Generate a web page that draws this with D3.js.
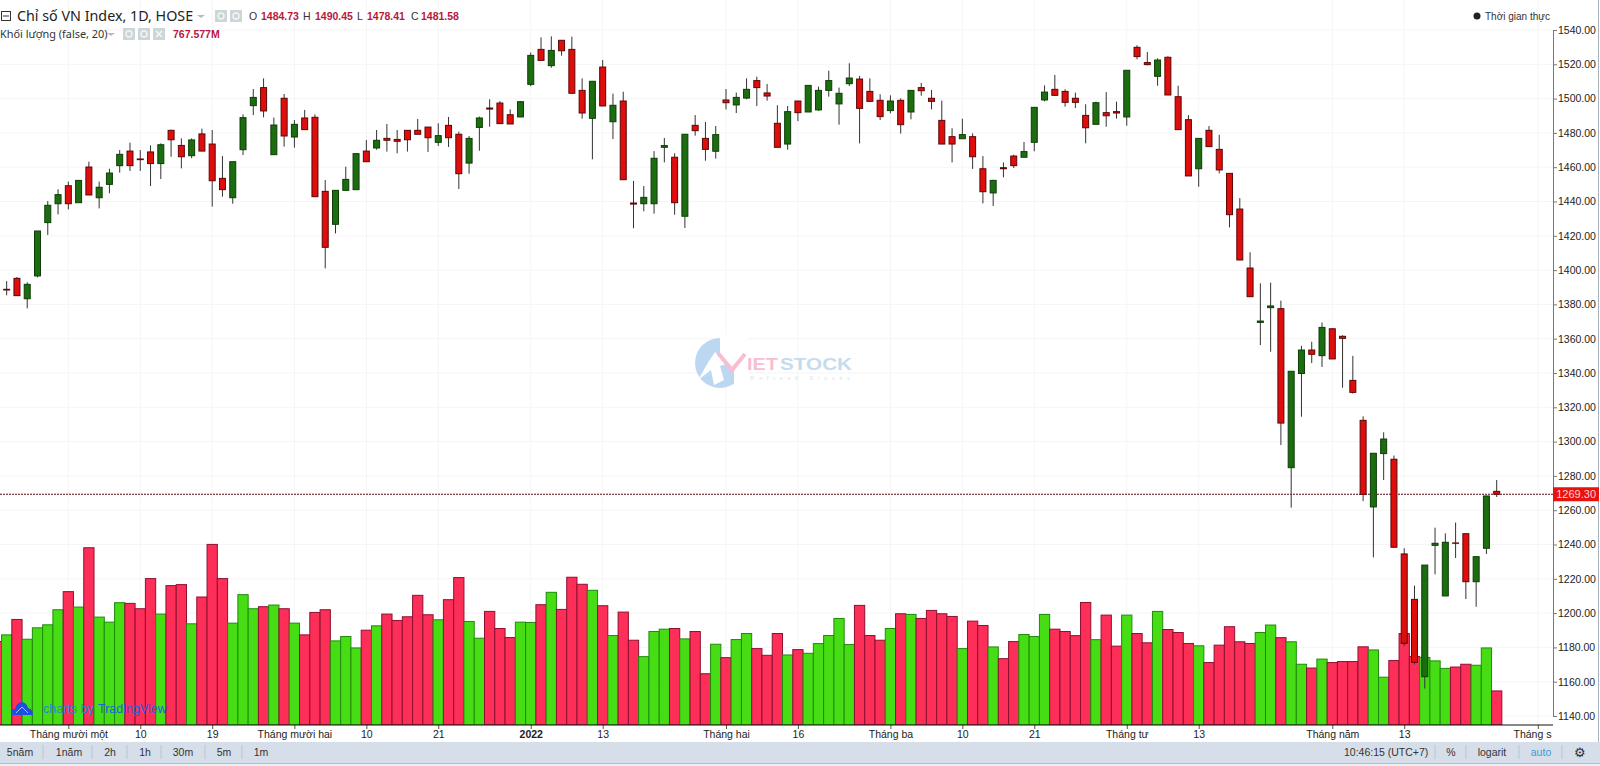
<!DOCTYPE html>
<html>
<head>
<meta charset="utf-8">
<script src="https://cdn.jsdelivr.net/npm/d3@7"></script>
<style>
  html, body { margin: 0; padding: 0; background: #fff; overflow: hidden; }
  text { font-family: "Liberation Sans", Arial, sans-serif; }
  .head { font-family: "Noto Sans", sans-serif; }
</style>
</head>
<body>
<svg id="chart" width="1600" height="766"></svg>
<script>
// candles, first entry sits just left of the visible area
const opens = [1392,1388.8,1395.2,1383.3,1396.6,1427.7,1438.7,1449.2,1439.3,1460.1,1442.2,1450,1460.9,1469.4,1464.8,1468.9,1462.1,1481.5,1472.7,1466.7,1479.4,1473.5,1453.5,1442.2,1470.2,1495.9,1506.4,1467.3,1500.2,1477.6,1488.7,1489.1,1445.9,1426.7,1446.5,1446.9,1469.4,1471.2,1476.8,1476.2,1481.5,1481.5,1483.4,1474.5,1484.4,1479.2,1462.4,1483.2,1494.5,1497.4,1490.6,1489.3,1508.3,1528.7,1519.2,1534,1528.7,1504.8,1488.5,1518.4,1486.5,1498.6,1439.1,1438.7,1438.7,1471.6,1465.8,1431.4,1484.4,1476.8,1469.3,1499.2,1496.3,1500.3,1510.5,1503.3,1485.6,1473.5,1498.6,1492.2,1493.4,1504.8,1496.9,1508.7,1511.4,1504.2,1499,1493,1499,1492.2,1506.4,1500.2,1487.3,1477.8,1476.6,1477.8,1459.1,1445,1459.7,1466.5,1465.8,1474.5,1499.2,1505.4,1504.2,1500.2,1490.2,1485,1491.8,1492.4,1489.3,1529.9,1521,1513,1524.1,1501.1,1487.7,1459.1,1481.5,1470.4,1456.4,1435.6,1401.2,1369.5,1378.1,1377.5,1284.8,1339.7,1353.4,1350.1,1365.8,1361.4,1335.7,1312.4,1261.9,1293,1289.7,1234.5,1208,1162.9,1239.5,1210,1240.9,1246.3,1218.3,1237.8,1271];
const highs = [1395,1393.6,1396,1392.9,1422.8,1440.3,1447.1,1451.6,1452.3,1463.2,1451.6,1459.1,1470,1474.3,1470,1472.7,1473.9,1481.9,1476.8,1476.8,1482.5,1481.7,1466.5,1463.2,1490.8,1505.6,1511.8,1488.9,1502.7,1487.5,1493.4,1490.8,1452.5,1446.5,1460.3,1467.9,1475.9,1481.7,1485.2,1481.7,1481.5,1488.1,1483.4,1485.6,1489.3,1480.7,1478.2,1489.5,1499.6,1498.6,1493.7,1498.6,1526.8,1535.7,1536.3,1534,1536.1,1511.8,1510.1,1522.5,1502.9,1504,1452,1449,1469.4,1477,1468.1,1479.2,1490.4,1486.4,1484,1505.6,1503.5,1511.8,1512.8,1508.5,1496.1,1495.7,1498.6,1507.7,1507,1516.3,1506.4,1520.6,1513.2,1511.8,1502.5,1501.9,1500.2,1504.8,1509.1,1505,1498.8,1482.7,1488.3,1479.7,1466.5,1452.7,1462.8,1467.3,1474.7,1494.9,1507.7,1513.8,1505.4,1503.5,1496.7,1498.2,1503.8,1498.2,1516.5,1531.1,1527.2,1523.5,1524.6,1507.5,1490.4,1476.8,1484,1478.9,1456.4,1442,1410.4,1392.3,1392.7,1382.2,1341,1355.8,1358.2,1369.4,1365.8,1362,1350,1314.7,1293.2,1305.4,1291.9,1237.8,1216,1228,1249.8,1246.5,1252.8,1246.3,1232.9,1268.3,1277.6];
const lows = [1385,1385.3,1385.1,1377.7,1395.8,1420.5,1432.5,1435.4,1439.3,1443.8,1436,1444.8,1456.8,1457.8,1457.8,1449,1453.1,1466.1,1459.3,1465.2,1469.4,1437,1442.8,1438.7,1467.1,1490.4,1489.1,1467.3,1472,1471.4,1481.9,1442.8,1401,1421.4,1446.5,1446.9,1463.2,1470.2,1469.1,1468.1,1469.1,1479.2,1468.9,1472.4,1471.8,1447.3,1456.2,1469.6,1483.6,1485.4,1485.2,1489.3,1507.2,1522.3,1518,1525,1503.1,1488.3,1464.6,1495.7,1476.4,1452.7,1424.4,1434.3,1432.9,1462.8,1432.3,1424.5,1478.4,1463.8,1465,1493.7,1491.6,1499.6,1495.7,1498.8,1471.6,1470.2,1486.9,1492.2,1492.8,1501.1,1484.8,1507.3,1473.9,1498.4,1487.5,1491.4,1479.6,1487.9,1501.7,1493.7,1473.5,1462.8,1476.6,1459,1438.9,1437.4,1454.1,1459.5,1465.8,1469.3,1498.4,1501.5,1495.3,1494.5,1473.9,1485,1483.6,1488.3,1484.2,1522.9,1519.4,1507.5,1502.1,1481.9,1454.9,1448.6,1472,1456.4,1424.9,1405.9,1384.5,1356.3,1352.4,1298,1261.5,1314.5,1345.8,1343.5,1348.2,1331.4,1328,1265.3,1232.5,1277.6,1238,1180.8,1170,1156,1222.6,1210,1232.1,1208.2,1203.7,1234.5,1267.7];
const closes = [1388,1388.4,1385.1,1391.7,1422.8,1437.8,1444,1438.7,1452.3,1443.8,1448.3,1456.6,1467.5,1460.9,1464.4,1462.1,1473.1,1476,1466.1,1475.9,1469.4,1452.1,1446.9,1463.2,1488.9,1500.7,1492.8,1484.6,1478.2,1485,1481.9,1442.8,1413.3,1446.5,1452.9,1467.9,1463.2,1475.7,1475.7,1475.1,1476,1479.2,1477.2,1478.4,1477.2,1456.2,1476.8,1488.7,1493.9,1485.4,1485.2,1498.2,1525.2,1522.3,1528.1,1527.9,1503.1,1491.6,1510.1,1495.7,1496.1,1452.7,1438.5,1442.4,1465.2,1472.6,1439.3,1479.2,1481.3,1470.4,1479,1497.6,1500.7,1505.4,1506.4,1501.5,1471.6,1492.4,1491.8,1507.7,1504.8,1510.5,1503.1,1512,1494.3,1498.4,1489.5,1498.6,1484.8,1504.8,1504.6,1498.4,1473.5,1473.5,1479,1466.1,1445.7,1452.3,1459.1,1460.9,1469.1,1494.9,1503.8,1501.9,1497.8,1497.8,1483,1497.6,1490,1491.6,1516.5,1524.5,1519.8,1522.5,1502.1,1481.9,1454.9,1476.8,1472,1458.4,1432.3,1405.9,1384.5,1370.3,1379.1,1310.8,1341,1353.4,1350.9,1366.6,1348.2,1360.2,1328.7,1269.2,1293.2,1301.5,1238.4,1182.4,1171.3,1228,1240.7,1241.3,1240.7,1218.3,1232.9,1268.3,1269.3];

// volume in millions
const volumes = [747,807,945,768,870,897,1032,1194,1056,1587,966,921,1095,1089,1041,1311,993,1248,1257,906,1146,1617,1311,912,1167,1041,1059,1074,1041,912,807,1008,1032,753,792,690,849,888,993,936,969,1161,987,942,1122,1320,927,777,1017,864,783,921,918,1077,1188,1035,1323,1260,1206,1068,801,1011,759,612,837,858,864,771,837,459,723,603,765,819,684,624,819,627,675,642,729,801,954,720,1071,801,759,864,996,990,954,1026,996,972,684,930,891,699,594,747,810,792,990,858,837,800,1097,764,984,706,984,819,736,1017,855,828,730,709,559,715,880,745,730,828,895,782,745,544,510,590,559,568,568,700,672,428,577,819,614,605,574,507,519,544,535,690,305];
const volumeDir = "rgrggggrgrgggrrrgrrgrrrgggrgrgrrrgggrgrrrrrgrrggrrrggrgrrrgrgrrgggrgrrgrggrrrgrgggggrrrgrgrrrrgrrgrrgggrrrrgrrgrrgrrrgrrrrrggrggrgrrrrggrrrgggrrggr".split("");

const priceTicks = [1140,1160,1180,1200,1220,1240,1260,1280,1300,1320,1340,1360,1380,1400,1420,1440,1460,1480,1500,1520,1540];
const lastPrice = 1269.3;

// bar index of every label on the time axis
const timeTicks = [6,13,20,28,35,42,51,58,70,77,86,93,100,109,116,129,136,149];
const timeLabels = ["Tháng mười một","10","19","Tháng mười hai","10","21","2022","13","Tháng hai","16","Tháng ba","10","21","Tháng tư","13","Tháng năm","13","Tháng sáu"];

const rangeButtons = [["5năm",20],["1năm",69],["2h",110],["1h",145],["30m",183],["5m",224],["1m",261]];
const rangeSeps = [43,92,127,161,205,242];

const svg = d3.select("#chart");
const plotRight = 1553;
const plotBottom = 725;

const x = d3.scaleLinear().domain([0, 145]).range([6.67, 1496.7]);
const y = d3.scaleLinear().domain([1140, 1540]).range([716, 30]);
const vy = d3.scaleLinear().domain([0, 1617]).range([plotBottom, 544.4]);
const step = x(1) - x(0);

svg.append("defs").append("clipPath").attr("id", "plot")
  .append("rect").attr("width", plotRight).attr("height", plotBottom);

const plot = svg.append("g").attr("clip-path", "url(#plot)");

// grid
plot.selectAll(".hgrid").data(priceTicks).join("line")
  .attr("x1", 0).attr("x2", plotRight)
  .attr("y1", (d) => y(d)).attr("y2", (d) => y(d))
  .attr("stroke", "#f5f5f5");
plot.selectAll(".vgrid").data(timeTicks).join("line")
  .attr("x1", (d) => x(d)).attr("x2", (d) => x(d))
  .attr("y1", 0).attr("y2", plotBottom)
  .attr("stroke", "#f5f5f5");

// watermark
const mark = plot.append("g").attr("transform", "translate(720,363)");
mark.append("circle").attr("r", 25).attr("fill", "#bcd7f2");
mark.append("path").attr("d", "M-22,17 L-11,-2 L-5,-11 L6,1 L0,3 L4,17 L-6,22 L-9,7 Z").attr("fill", "#fff");
mark.append("path").attr("d", "M0,-28 L12,-28 L28,-28 L28,28 L14,28 L14,8 L0,-10 Z").attr("fill", "#fff");
mark.append("path").attr("d", "M-2,-10 L12,7 L25,-9").attr("fill", "none").attr("stroke", "#f9bdd3").attr("stroke-width", 4);
mark.append("text").attr("x", 27).attr("y", 7).attr("font-size", 16).attr("font-weight", "bold")
  .attr("textLength", 31).attr("lengthAdjust", "spacingAndGlyphs").attr("fill", "#f9bdd3").text("IET");
mark.append("text").attr("x", 60).attr("y", 7).attr("font-size", 16).attr("font-weight", "bold")
  .attr("textLength", 72).attr("lengthAdjust", "spacingAndGlyphs").attr("fill", "#c5dcef").text("STOCK");
mark.append("text").attr("x", 30).attr("y", 17).attr("font-size", 6)
  .attr("textLength", 100).attr("fill", "#dbe4ec").text("Refresh Stocks");

// volume bars
plot.selectAll(".vol").data(volumes).join("rect")
  .attr("class", "vol")
  .attr("x", (d, i) => x(i - 1) - step / 2)
  .attr("width", step)
  .attr("y", (d) => vy(d))
  .attr("height", (d) => plotBottom - vy(d))
  .attr("fill", (d, i) => (volumeDir[i] === "r" ? "#fd2e57" : "#47dd14"))
  .attr("stroke", (d, i) => (volumeDir[i] === "r" ? "#8f1030" : "#1f8a0c"));

// tradingview mark over the bars
plot.append("path")
  .attr("d", "M11,715 Q10,709 15,709 Q17,702 22,702 Q27,703 28,708 Q33,709 33,715 Z")
  .attr("fill", "#1f4fe0");
plot.append("path").attr("d", "M16,713 L22,707 L28,713").attr("fill", "none").attr("stroke", "#9fc0ff");
plot.append("text").attr("x", 43).attr("y", 713).attr("font-size", 12.5).attr("fill", "#2a86d8").text("charts by ");
plot.append("text").attr("x", 98).attr("y", 713).attr("font-size", 12.5).attr("fill", "#1a63d8").text("TradingView");

// last price line
plot.append("line")
  .attr("x1", 0).attr("x2", plotRight)
  .attr("y1", y(lastPrice)).attr("y2", y(lastPrice))
  .attr("stroke", "#5a0a12").attr("stroke-dasharray", "2,1");

// candles
const candles = plot.selectAll(".candle").data(opens).join("g").attr("class", "candle");
candles.append("line")
  .attr("x1", (d, i) => x(i - 1)).attr("x2", (d, i) => x(i - 1))
  .attr("y1", (d, i) => y(highs[i])).attr("y2", (d, i) => y(lows[i]))
  .attr("stroke", "#333");
candles.append("rect")
  .attr("x", (d, i) => x(i - 1) - 3)
  .attr("width", 6)
  .attr("y", (d, i) => y(Math.max(opens[i], closes[i])))
  .attr("height", (d, i) => Math.abs(y(opens[i]) - y(closes[i])))
  .attr("fill", (d, i) => (closes[i] < opens[i] ? "#e00d0d" : "#1c6c10"))
  .attr("stroke", (d, i) => (closes[i] < opens[i] ? "#5c0606" : "#0e3d08"));

// price axis
const yAxis = d3.axisRight(y).tickValues(priceTicks).tickFormat(d3.format(".2f")).tickSize(4).tickPadding(1);
const yG = svg.append("g").attr("transform", `translate(${plotRight},0)`).call(yAxis);
yG.select(".domain").attr("stroke", "#777");
yG.selectAll("line").attr("stroke", "#777");
yG.selectAll("text").attr("font-size", 10.5).attr("fill", "#222")
  .attr("font-family", "Liberation Sans");

// window border on the right
svg.append("line").attr("x1", 1598.5).attr("x2", 1598.5).attr("y1", 0).attr("y2", 742).attr("stroke", "#a9b3bc");

// last price tag
svg.append("rect").attr("x", plotRight).attr("width", 46)
  .attr("y", y(lastPrice) - 7).attr("height", 14).attr("fill", "#e8120f");
svg.append("text").attr("x", 1596).attr("y", y(lastPrice) + 4).attr("text-anchor", "end")
  .attr("font-size", 11).attr("fill", "#ffd0d0").text("1269.30");

// time axis, the last label runs into the price axis
svg.append("clipPath").attr("id", "timeclip").append("rect")
  .attr("width", plotRight - 1).attr("height", 17);
const xAxis = d3.axisBottom(x).tickValues(timeTicks)
  .tickFormat((d, i) => timeLabels[i]).tickSize(4).tickPadding(2);
const xG = svg.append("g").attr("transform", `translate(0,${plotBottom})`)
  .attr("clip-path", "url(#timeclip)").call(xAxis);
xG.select(".domain").remove();
xG.selectAll("line").attr("stroke", "#555");
xG.selectAll("text").attr("font-size", 10.5).attr("fill", "#222")
  .attr("font-family", "Liberation Sans");
xG.selectAll("text").filter((d) => d === 51).attr("font-weight", "bold");
svg.append("line").attr("x1", 0).attr("x2", plotRight).attr("y1", plotBottom).attr("y2", plotBottom)
  .attr("stroke", "#111");

// bottom toolbar
svg.append("rect").attr("y", 742).attr("width", 1600).attr("height", 21).attr("fill", "#d6dfe9");
svg.append("rect").attr("y", 763).attr("width", 1600).attr("height", 1).attr("fill", "#b4bfca");
svg.append("rect").attr("y", 764).attr("width", 1600).attr("height", 2).attr("fill", "#e9eff6");
svg.append("g").selectAll("text").data(rangeButtons).join("text")
  .attr("x", (d) => d[1]).attr("y", 756).attr("text-anchor", "middle")
  .attr("font-size", 10.5).attr("fill", "#333").text((d) => d[0]);
svg.append("g").selectAll("line").data(rangeSeps.concat([1435,1466,1519,1562])).join("line")
  .attr("x1", (d) => d).attr("x2", (d) => d).attr("y1", 745).attr("y2", 759)
  .attr("stroke", "#b9c4cf");
svg.append("text").attr("x", 1344).attr("y", 756).attr("font-size", 10.5).attr("fill", "#333").text("10:46:15 (UTC+7)");
svg.append("text").attr("x", 1451).attr("y", 756).attr("text-anchor", "middle").attr("font-size", 10.5).attr("fill", "#333").text("%");
svg.append("text").attr("x", 1492).attr("y", 756).attr("text-anchor", "middle").attr("font-size", 10.5).attr("fill", "#333").text("logarit");
svg.append("text").attr("x", 1541).attr("y", 756).attr("text-anchor", "middle").attr("font-size", 10.5).attr("fill", "#3a9ad9").text("auto");
svg.append("text").attr("x", 1580).attr("y", 757).attr("text-anchor", "middle").attr("font-size", 13).attr("fill", "#333")
  .attr("font-family", "DejaVu Sans").text("⚙");

// legend
svg.append("rect").attr("x", 1.5).attr("y", 11.5).attr("width", 9).attr("height", 9).attr("fill", "none").attr("stroke", "#333");
svg.append("line").attr("x1", 3).attr("x2", 9).attr("y1", 16).attr("y2", 16).attr("stroke", "#333");
svg.append("text").attr("class", "head").attr("x", 17).attr("y", 21).attr("font-size", 14.3).attr("fill", "#222").text("Chỉ số VN Index, 1D, HOSE");
svg.append("text").attr("class", "head").attr("x", 0).attr("y", 38).attr("font-size", 10.9).attr("fill", "#333").text("Khối lượng (false, 20)");

const carets = [[201,16],[111,34]];
svg.selectAll(".caret").data(carets).join("path").attr("class", "caret")
  .attr("d", (d) => `M${d[0] - 4},${d[1] - 1} h8 l-4,3 z`).attr("fill", "#bbb");
const iconBoxes = [[215,10],[230,10],[123,28],[138,28],[153,28]];
svg.selectAll(".icon").data(iconBoxes).join("rect").attr("class", "icon")
  .attr("x", (d) => d[0]).attr("y", (d) => d[1]).attr("width", 12).attr("height", 12).attr("fill", "#cdd6d6");
svg.selectAll(".iconDot").data(iconBoxes.slice(0, 4)).join("circle").attr("class", "iconDot")
  .attr("cx", (d) => d[0] + 6).attr("cy", (d) => d[1] + 6).attr("r", 3).attr("fill", "none").attr("stroke", "#f2f5f5").attr("stroke-width", 1.4);
svg.append("path").attr("d", "M156,31 L162,37 M162,31 L156,37").attr("stroke", "#f2f5f5").attr("stroke-width", 1.6);

const ohlcNames = [["O",249],["H",303],["L",357],["C",411]];
const ohlcValues = [["1484.73",261],["1490.45",315],["1478.41",367],["1481.58",421]];
svg.selectAll(".ohlcName").data(ohlcNames).join("text").attr("class", "ohlcName")
  .attr("x", (d) => d[1]).attr("y", 20).attr("font-size", 10.5).attr("fill", "#333").text((d) => d[0]);
svg.selectAll(".ohlcValue").data(ohlcValues).join("text").attr("class", "ohlcValue")
  .attr("x", (d) => d[1]).attr("y", 20).attr("font-size", 10.5).attr("font-weight", "bold").attr("fill", "#b8183c").text((d) => d[0]);
svg.append("text").attr("x", 173).attr("y", 38).attr("font-size", 10.5).attr("font-weight", "bold").attr("fill", "#b8183c").text("767.577M");

svg.append("circle").attr("cx", 1477).attr("cy", 16).attr("r", 3.5).attr("fill", "#222");
svg.append("text").attr("x", 1485).attr("y", 20).attr("font-size", 10).attr("fill", "#333").text("Thời gian thực");
</script>
</body>
</html>
